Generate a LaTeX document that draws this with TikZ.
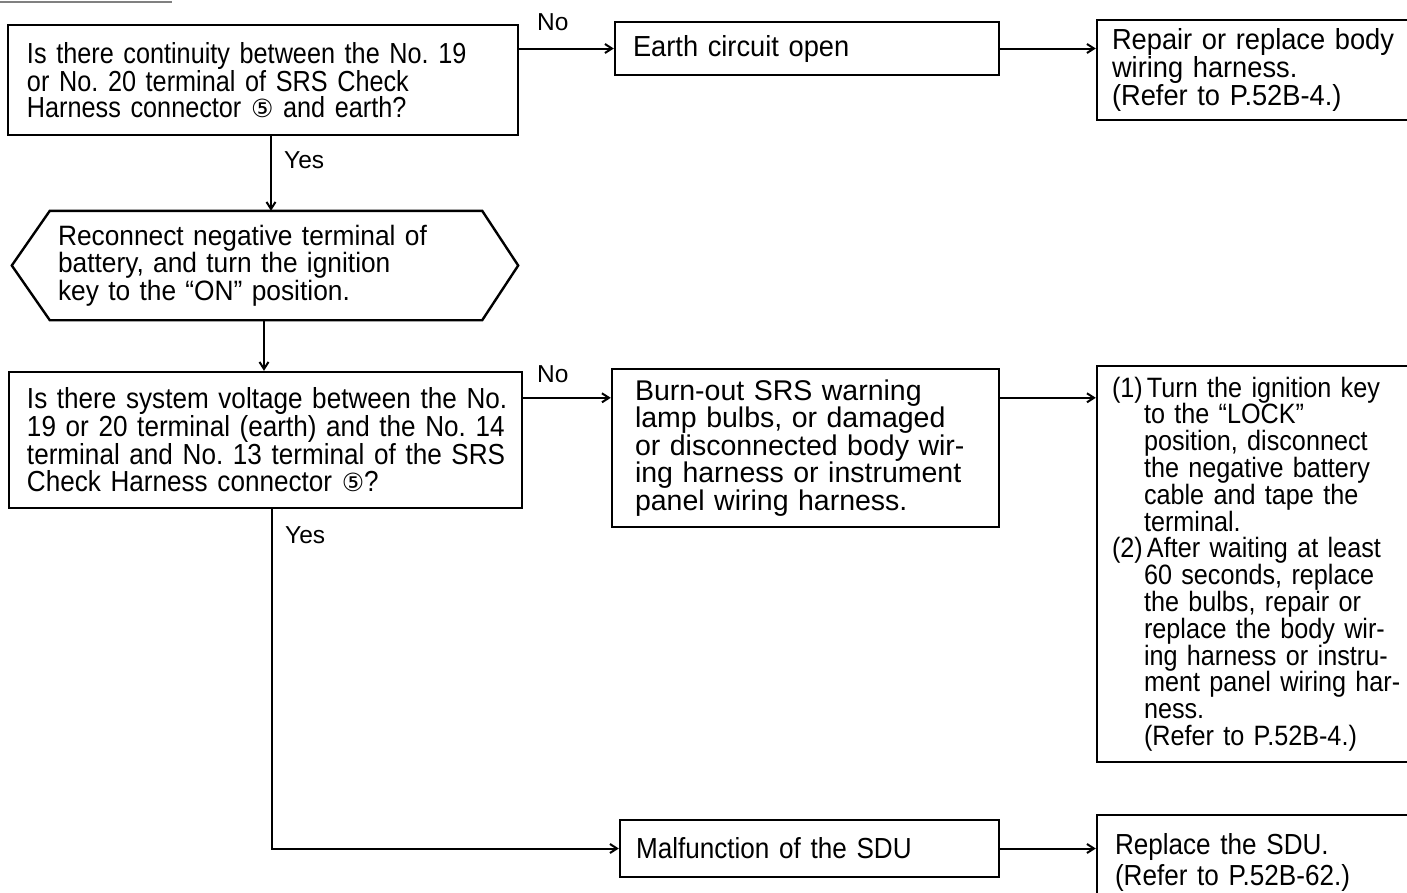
\documentclass[tikz,border=0pt]{standalone}
\usepackage{fontspec}
\setmainfont{Liberation Sans}
\newfontfamily\narrowfont[FakeStretch=0.87]{Liberation Sans}
\newfontfamily\condfont[FakeStretch=0.9]{Liberation Sans}
\newfontfamily\midfont[FakeStretch=0.94]{Liberation Sans}
\newfontfamily\circfont{DejaVu Sans}
\usetikzlibrary{arrows.meta,calc}
\frenchspacing
% circled connector number
\newcommand{\cnum}{{\circfont\fontsize{25pt}{25pt}\selectfont ⑤}}
% one unbreakable text line
\newcommand{\oneline}[1]{\mbox{#1}}
% numbered item start and its continuation indent
\newcommand{\itemno}[1]{\makebox[35pt][l]{#1}}
\newcommand{\contind}{\hspace*{32pt}}
\begin{document}
% keep a fixed baseline distance in every multi-line text
\lineskiplimit=-100pt
\begin{tikzpicture}[x=1pt,y=-1pt,
  every node/.style={font=\fontsize{26.5pt}{26.5pt}\selectfont},
  box/.style={draw, line width=2.4pt, rectangle, align=left, inner ysep=0pt},
  narrow/.style={font=\narrowfont\fontsize{29pt}{#1}\selectfont},
  cond/.style={font=\condfont\fontsize{29pt}{#1}\selectfont},
  mid/.style={font=\midfont\fontsize{29pt}{#1}\selectfont},
  arr/.style={line width=2pt, -{Straight Barb[length=7pt,width=9pt]}},
  lbl/.style={inner sep=0pt, anchor=base west, font=\fontsize{24.5pt}{24.5pt}\selectfont}]
\clip (0,0) rectangle (1407,892);

% header rule
\draw[gray, line width=1.5pt] (0,2) -- (172,2);

% first check
\node[box, narrow=26.5pt, minimum width=510pt, minimum height=110pt, inner xsep=19pt, text width=472pt]
  (b1) at (263,80) {\oneline{Is there continuity between the No. 19}\\
  \oneline{or No. 20 terminal of SRS Check}\\
  \oneline{Harness connector \cnum{} and earth?}};

\node[box, mid=26.5pt, minimum width=384pt, minimum height=53pt, inner xsep=18pt, text width=348pt]
  (b2) at (807,48.5) {Earth circuit open};

\node[box, mid=27pt, minimum width=333pt, minimum height=100pt, inner xsep=15pt, text width=303pt]
  (b3) at (1263.5,70) {\oneline{Repair or replace body}\\
  \oneline{wiring harness.}\\
  \oneline{(Refer to P.52B-4.)}};

% reconnect step (hexagon)
\node[align=left, minimum width=432pt, minimum height=109pt, inner xsep=8pt, inner ysep=0pt,
  text width=416pt, font=\midfont\fontsize{28pt}{27.5pt}\selectfont]
  (hex) at (266,265.5) {\oneline{Reconnect negative terminal of}\\
  \oneline{battery, and turn the ignition}\\
  \oneline{key to the “ON” position.}};
\draw[line width=2.4pt, line join=miter] (hex.north west) -- (hex.north east) -- ($(hex.east)+(36,0)$)
  -- (hex.south east) -- (hex.south west) -- ($(hex.west)+(-38,0)$) -- cycle;

% second check
\node[box, cond=27pt, minimum width=513pt, minimum height=136pt, inner xsep=18pt, text width=477pt]
  (b4) at (265.5,440) {\oneline{Is there system voltage between the No.}\\
  \oneline{19 or 20 terminal (earth) and the No. 14}\\
  \oneline{terminal and No. 13 terminal of the SRS}\\
  \oneline{Check Harness connector \cnum?}};

\node[box, minimum width=387pt, minimum height=158pt, inner xsep=23pt, text width=341pt,
  font=\fontsize{28.5pt}{26pt}\selectfont]
  (b5) at (805.5,448) {\oneline{Burn-out SRS warning}\\
  \oneline{lamp bulbs, or damaged}\\
  \oneline{or disconnected body wir-}\\
  \oneline{ing harness or instrument}\\
  \oneline{panel wiring harness.}};

\node[box, minimum width=333pt, minimum height=396pt, inner xsep=15pt, text width=303pt,
  font=\condfont\fontsize{28pt}{26.8pt}\selectfont]
  (b6) at (1263.5,564) {\oneline{\itemno{(1)}Turn the ignition key}\\
  \oneline{\contind to the “LOCK”}\\
  \oneline{\contind position, disconnect}\\
  \oneline{\contind the negative battery}\\
  \oneline{\contind cable and tape the}\\
  \oneline{\contind terminal.}\\
  \oneline{\itemno{(2)}After waiting at least}\\
  \oneline{\contind 60 seconds, replace}\\
  \oneline{\contind the bulbs, repair or}\\
  \oneline{\contind replace the body wir-}\\
  \oneline{\contind ing harness or instru-}\\
  \oneline{\contind ment panel wiring har-}\\
  \oneline{\contind ness.}\\
  \oneline{\contind (Refer to P.52B-4.)}};

\node[box, cond=26.5pt, minimum width=379pt, minimum height=57pt, inner xsep=16pt, text width=347pt]
  (b7) at (809.5,848.5) {Malfunction of the SDU};

\node[box, cond=31pt, minimum width=333pt, minimum height=95pt, inner xsep=18pt, text width=297pt]
  (b8) at (1263.5,862.5) {\oneline{Replace the SDU.}\\
  \oneline{(Refer to P.52B-62.)}};

% branch labels
\node[lbl] (no1) at (537,30) {No};
\node[lbl] (yes1) at (284,168) {Yes};
\node[lbl] (no2) at (537,382) {No};
\node[lbl] (yes2) at (285,543) {Yes};

% connectors
\coordinate (y1) at ([xshift=8pt]b1.south);
\coordinate (h1) at ([xshift=-2pt]hex.south);
\coordinate (n2) at ([yshift=-27pt]b4.north east);
\coordinate (n3) at ([yshift=-30pt]b5.north east);
\coordinate (y2) at ([xshift=6.5pt]b4.south);

\draw[arr] (b1.east |- b2.west) -- (b2.west);
\draw[arr] (b2.east) -- (b2.east -| b3.west);
\draw[arr] (y1) -- (y1 |- hex.north);
\draw[arr] (h1) -- (h1 |- b4.north);
\draw[arr] (n2) -- (n2 -| b5.west);
\draw[arr] (n3) -- (n3 -| b6.west);
\draw[arr] (y2) |- (b7.west);
\draw[arr] (b7.east) -- (b7.east -| b8.west);
\end{tikzpicture}
\end{document}
